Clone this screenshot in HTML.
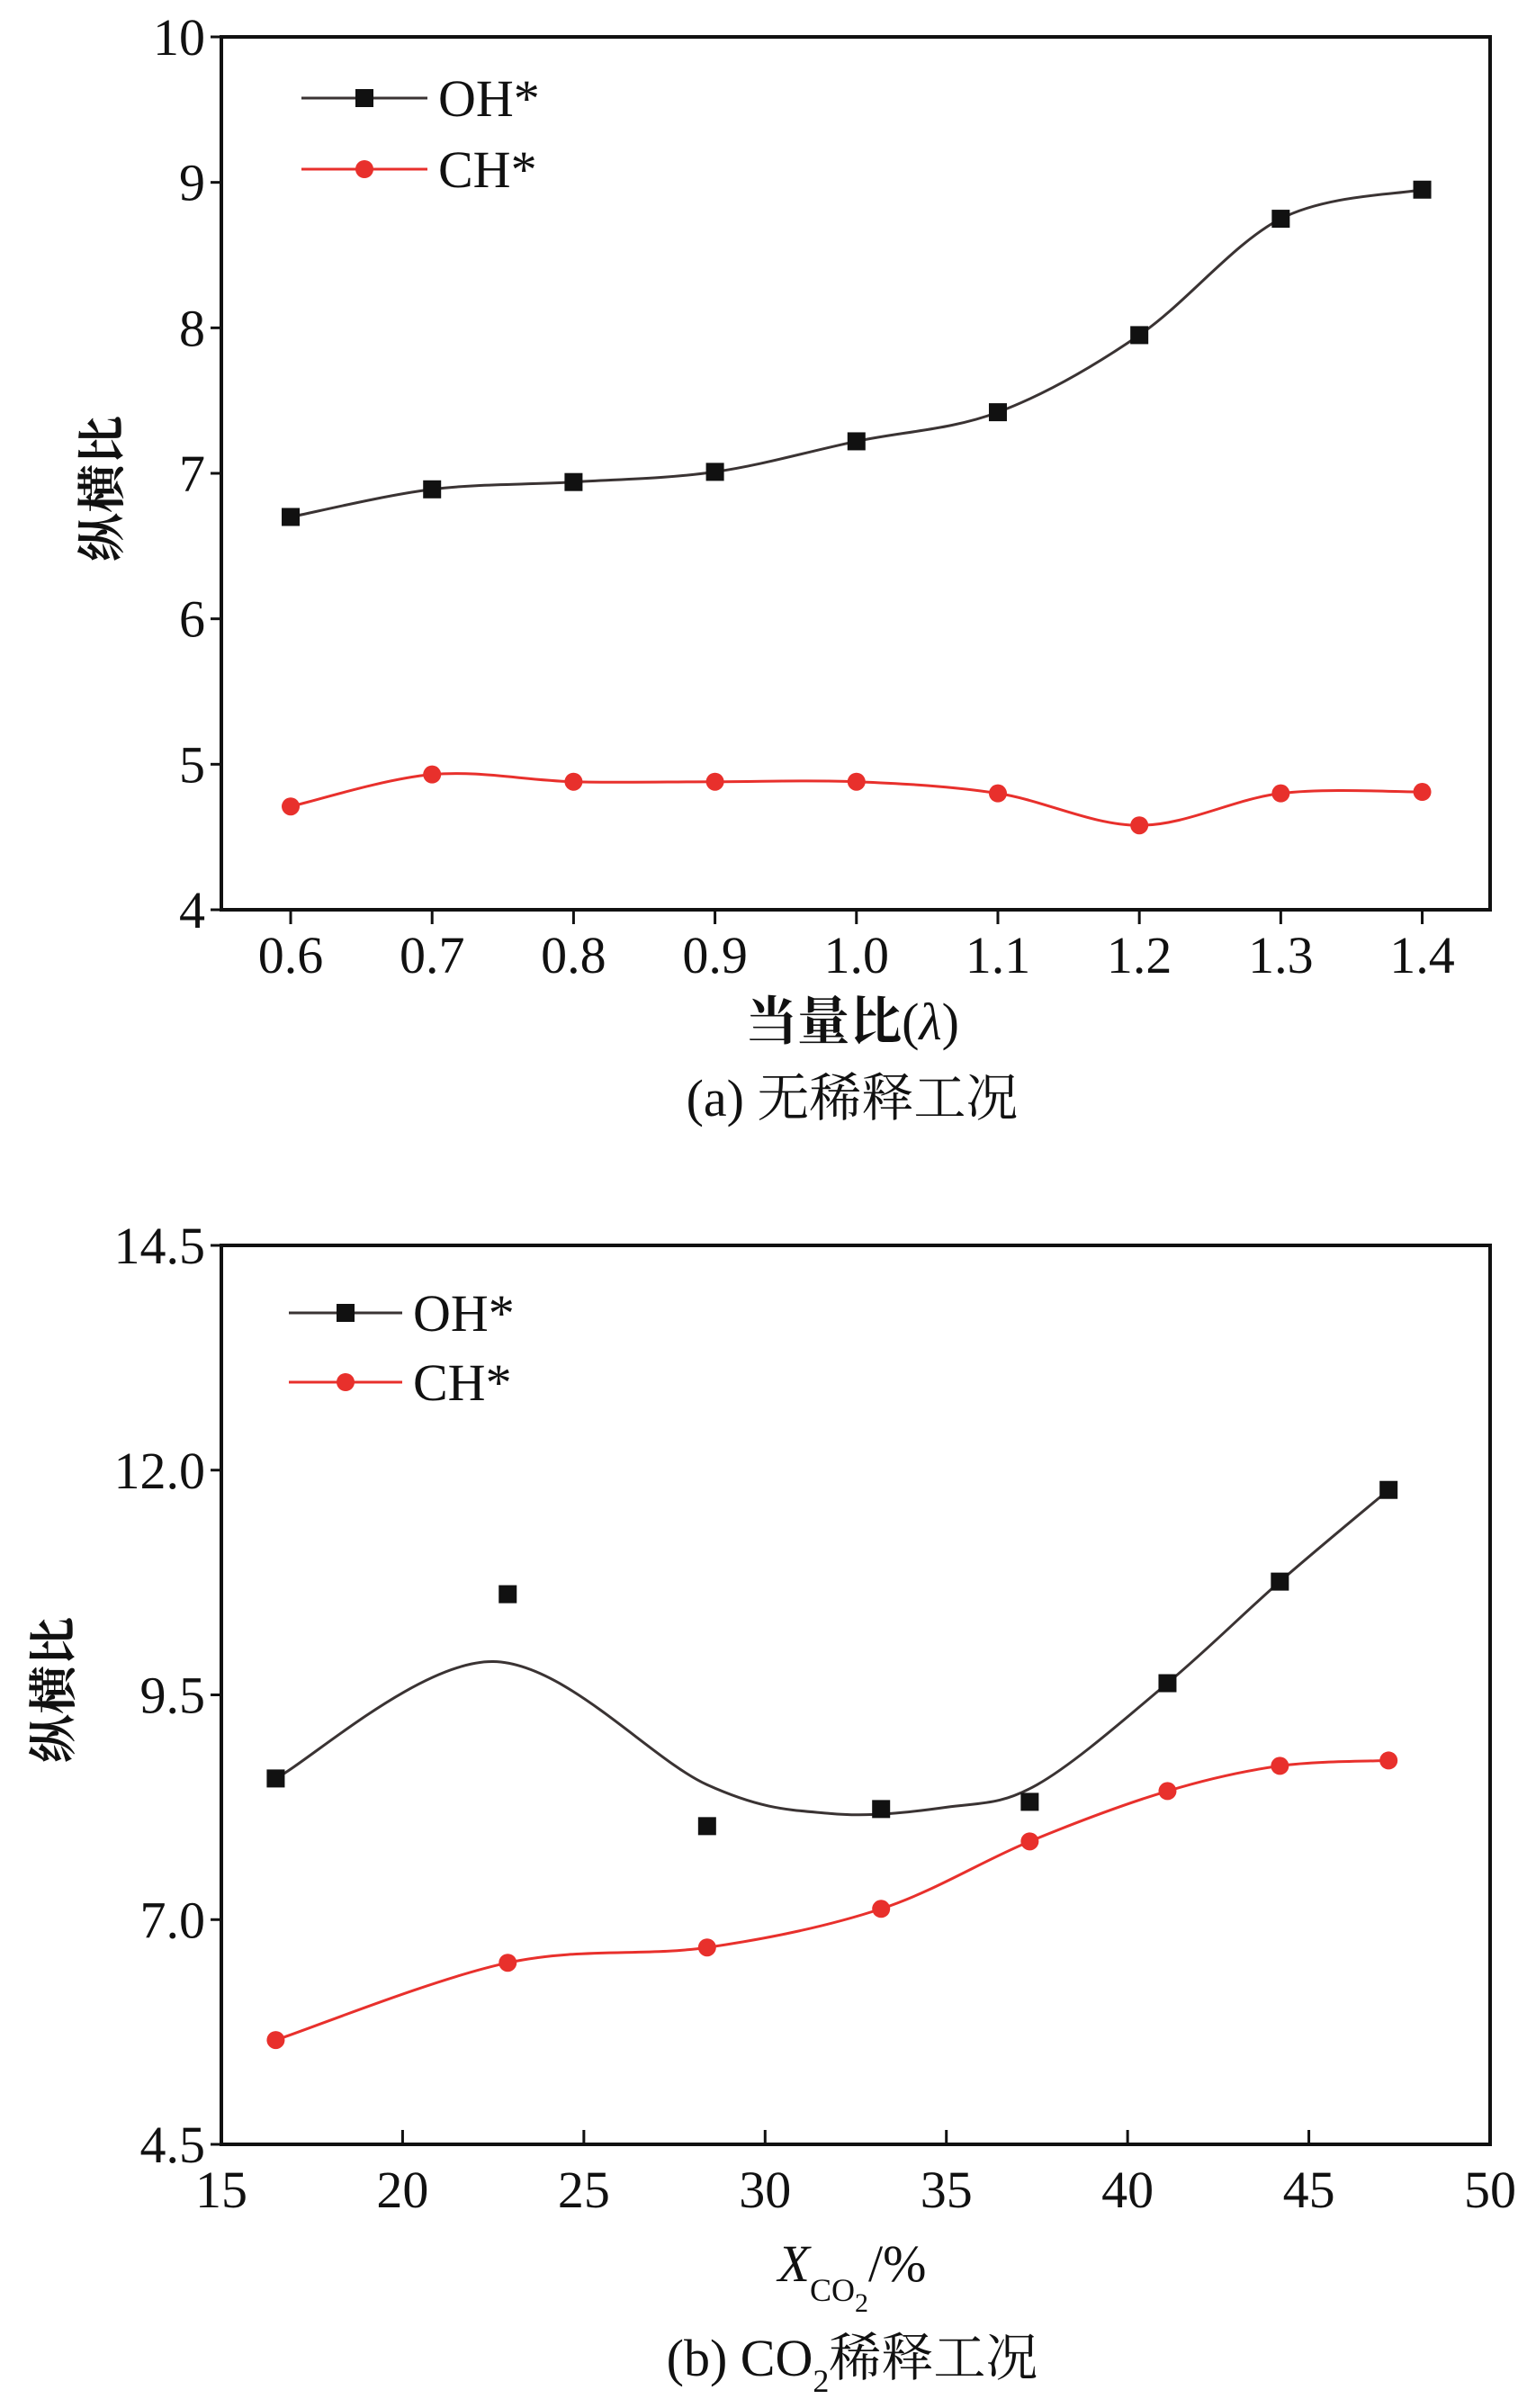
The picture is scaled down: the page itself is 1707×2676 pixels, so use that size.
<!DOCTYPE html>
<html><head><meta charset="utf-8"><style>
html,body{margin:0;padding:0;background:#fff}
svg{display:block}
text{font-family:"Liberation Serif","Noto Serif CJK SC",serif;fill:#111}
</style></head><body>
<svg id="svg" width="1707" height="2676" viewBox="0 0 1707 2676" xmlns="http://www.w3.org/2000/svg">
<text x="947" y="1155" font-size="58" text-anchor="middle"><tspan font-weight="bold">当量比</tspan>(<tspan font-style="italic">λ</tspan>)</text>
<text x="947" y="1240" font-size="58" text-anchor="middle">(a) 无稀释工况</text>
<text x="947" y="2535" font-size="58" text-anchor="middle"><tspan font-style="italic">X</tspan><tspan font-size="36" dy="22">CO</tspan><tspan font-size="30" dy="12">2</tspan><tspan dy="-34">/%</tspan></text>
<text x="947" y="2640" font-size="58" text-anchor="middle">(b) CO<tspan font-size="36" dy="18">2</tspan><tspan dy="-18">稀释工况</tspan></text>
</svg>
<script>
// ---- Chart (a) data ----
const aX = [0.6,0.7,0.8,0.9,1.0,1.1,1.2,1.3,1.4];
const aOH = [6.70,6.89,6.94,7.01,7.22,7.42,7.95,8.75,8.95];
const aCH = [4.71,4.93,4.88,4.88,4.88,4.80,4.58,4.80,4.81];
const aXTicks = ["0.6","0.7","0.8","0.9","1.0","1.1","1.2","1.3","1.4"];
const aYTicks = ["4","5","6","7","8","9","10"];
// ---- Chart (b) data ----
const bX = [16.5,22.9,28.4,33.2,37.3,41.1,44.2,47.2];
const bOH = [8.57,10.62,8.04,8.23,8.31,9.63,10.76,11.78];
const bCH = [5.66,6.52,6.69,7.12,7.87,8.43,8.71,8.77];
const bFitX = [16.5,22.5,28.4,31.8,35,37.5,41.1,44.2,47.2];
const bFitOH = [8.57,9.87,8.5,8.18,8.25,8.5,9.63,10.76,11.78];
const bXTicks = ["15","20","25","30","35","40","45","50"];
const bYTicks = ["4.5","7.0","9.5","12.0","14.5"];

const NS="http://www.w3.org/2000/svg", svg=document.getElementById('svg');
function el(tag,attrs,parent){const e=document.createElementNS(NS,tag);for(const k in attrs)e.setAttribute(k,attrs[k]);(parent||svg).appendChild(e);return e;}
function txt(s,x,y,size,parent,anchor){const t=el('text',{x:x,y:y,'font-size':size,'text-anchor':anchor||'middle'},parent);t.textContent=s;return t;}
function spline(pts){let d='M'+pts[0][0]+','+pts[0][1];for(let i=0;i<pts.length-1;i++){const p0=pts[Math.max(i-1,0)],p1=pts[i],p2=pts[i+1],p3=pts[Math.min(i+2,pts.length-1)];
const c1=[p1[0]+(p2[0]-p0[0])/6,p1[1]+(p2[1]-p0[1])/6],c2=[p2[0]-(p3[0]-p1[0])/6,p2[1]-(p3[1]-p1[1])/6];d+=' C'+c1+' '+c2+' '+p2;}return d;}

function chart(o){
  const g=el('g',{});
  
  
  const sx=v=>o.L+(v-o.x0)/(o.x1-o.x0)*(o.R-o.L), sy=v=>o.B-(v-o.y0)/(o.y1-o.y0)*(o.B-o.T);
  const frame=el('rect',{x:o.L,y:o.T,width:o.R-o.L,height:o.B-o.T,fill:'none',stroke:'#111','stroke-width':4},g);
  
  
  o.xt.forEach(s=>{const x=sx(parseFloat(s));
    el('line',{x1:x,x2:x,y1:o.B,y2:o.B+(o.tickDir*16),stroke:'#111','stroke-width':3},g);
    const t=txt(s,x,o.B+70,58,g);
    
    });
  o.yt.forEach(s=>{const y=sy(parseFloat(s));
    el('line',{x1:o.L,x2:o.L-12,y1:y,y2:y,stroke:'#111','stroke-width':3},g);
    const t=txt(s,o.L-18,y+20,58,g,'end');
    
    });
  const ohc=el('path',{d:spline(o.fitX.map((v,i)=>[sx(v),sy(o.fitOH[i])])),fill:'none',stroke:'#3a3333','stroke-width':3},g);
  
  
  const chc=el('path',{d:spline(o.xs.map((v,i)=>[sx(v),sy(o.ch[i])])),fill:'none',stroke:'#e8302c','stroke-width':3},g);
  
  
  o.xs.forEach((v,i)=>{
    const r=el('rect',{x:sx(v)-10,y:sy(o.oh[i])-10,width:20,height:20,fill:'#111'},g);
    
    
    const c=el('circle',{cx:sx(v),cy:sy(o.ch[i]),r:10,fill:'#e8302c'},g);
    
    
  });
  const lg=el('g',{},g);
  
  
  [['OH*','#3a3333',o.ly1,'sq'],['CH*','#e8302c',o.ly2,'ci']].forEach(e=>{
    el('line',{x1:o.lx1,x2:o.lx2,y1:e[2],y2:e[2],stroke:e[1],'stroke-width':3},lg);
    const m=(o.lx1+o.lx2)/2;
    if(e[3]=='sq')el('rect',{x:m-10,y:e[2]-10,width:20,height:20,fill:'#111'},lg);
    else el('circle',{cx:m,cy:e[2],r:10,fill:'#e8302c'},lg);
    const t=txt(e[0],o.lx2+12,e[2]+20,58,lg,'start');
    
    
  });
  const yt=txt('纵横比',0,0,54,g);
  yt.setAttribute('transform','translate('+o.ytx+','+o.yty+') rotate(-90)');
  yt.setAttribute('font-weight','bold');
  
  
  return {g,sx,sy};
}

chart({name:'chart-a',L:246,R:1656,T:41,B:1011,x0:0.551,x1:1.448,y0:4,y1:10,xs:aX,oh:aOH,ch:aCH,fitX:aX,fitOH:aOH,xt:aXTicks,yt:aYTicks,tickDir:1,lx1:335,lx2:475,ly1:109,ly2:188,ytx:132,yty:543});
chart({name:'chart-b',L:246,R:1656,T:1384,B:2383,x0:15,x1:50,y0:4.5,y1:14.5,xs:bX,oh:bOH,ch:bCH,fitX:bFitX,fitOH:bFitOH,xt:bXTicks,yt:bYTicks,tickDir:-1,lx1:321,lx2:447,ly1:1459,ly2:1536,ytx:78,yty:1878});
</script>
</body></html>
